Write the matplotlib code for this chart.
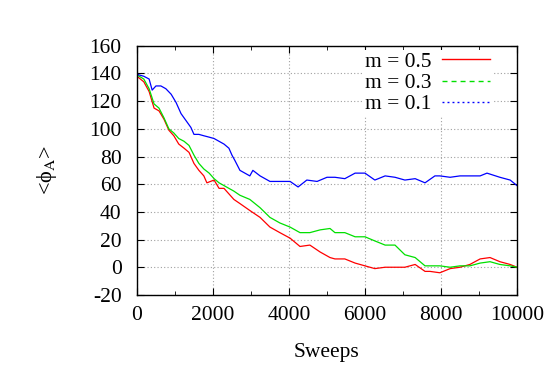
import matplotlib
matplotlib.use("Agg")
import matplotlib.pyplot as plt
from matplotlib.lines import Line2D
from matplotlib.ticker import MultipleLocator

plt.rcParams["font.family"] = ["Liberation Serif", "DejaVu Serif"]
plt.rcParams["mathtext.fontset"] = "stix"
plt.rcParams["axes.unicode_minus"] = False

# values
sweeps_05 = [0, 180, 320, 450, 580, 710, 840, 970, 1100, 1240, 1370, 1500, 1630,
             1760, 1840, 2030, 2160, 2290, 2420, 2550, 2710, 2970, 3240, 3500,
             3760, 4030, 4290, 4550, 4820, 5080, 5210, 5470, 5740, 6000, 6260,
             6530, 6790, 7050, 7320, 7580, 7710, 7970, 8240, 8500, 8760, 9030,
             9290, 9550, 9820, 10000]
phi_05 = [138, 134, 127, 115, 113, 107, 99, 95, 89, 86, 83, 75, 70,
          66, 61, 63, 57, 57, 53, 49, 46, 41, 36, 29,
          25, 21, 15, 16, 11, 7, 6, 6, 3, 1, -1,
          0, 0, 0, 2, -3, -3, -4, -1, 0, 2, 6,
          7, 4, 2, 0]

sweeps_03 = [0, 180, 320, 450, 580, 710, 840, 970, 1100, 1240, 1370, 1500, 1630,
             1760, 1900, 2030, 2160, 2290, 2420, 2550, 2710, 2970, 3240, 3500,
             3760, 4030, 4290, 4550, 4820, 5080, 5210, 5470, 5740, 6000, 6260,
             6530, 6790, 7050, 7320, 7580, 7710, 7970, 8240, 8500, 8760, 9030,
             9290, 9550, 9820, 10000]
phi_03 = [139, 136, 129, 118, 115, 108, 100, 97, 93, 91, 88, 81, 75,
          71, 68, 64, 61, 59, 57, 55, 52, 49, 43, 36,
          32, 29, 25, 25, 27, 28, 25, 25, 22, 22, 19,
          16, 16, 9, 7, 1, 1, 1, 0, 1, 1, 3,
          4, 2, 1, 0]

sweeps_01 = [0, 50, 180, 320, 400, 500, 630, 760, 900, 1030, 1160, 1290, 1420,
             1500, 1630, 1760, 1900, 2030, 2160, 2290, 2420, 2500, 2580, 2710,
             2840, 2970, 3050, 3240, 3500, 3760, 4030, 4240, 4470, 4740, 5000,
             5210, 5470, 5740, 6000, 6260, 6530, 6790, 7050, 7320, 7580, 7840,
             7970, 8240, 8500, 8760, 9030, 9210, 9550, 9820, 10000]
phi_01 = [140, 139, 138, 136, 128, 131, 131, 129, 125, 119, 111, 106, 101,
          96, 96, 95, 94, 93, 91, 89, 86, 81, 77, 70,
          68, 66, 70, 66, 62, 62, 62, 58, 63, 62, 65,
          65, 64, 68, 68, 63, 66, 65, 63, 64, 61, 66,
          66, 65, 66, 66, 66, 68, 65, 63, 59]

labels = ["m = 0.5", "m = 0.3", "m = 0.1"]
colors = ["#ff0000", "#00e000", "#0000ff"]
styles = ["-", (0, (3.6, 2.9)), (0, (1.4, 2.2))]

fig = plt.figure(figsize=(5.5, 3.85), dpi=100)
ax = fig.add_axes([0.249, 0.234, 0.691, 0.647])

series = [(sweeps_05, phi_05), (sweeps_03, phi_03), (sweeps_01, phi_01)]
for (xs, ys), c in zip(series, colors):
    ax.plot(xs, ys, color=c, lw=0.9)

ax.set_xlim(0, 10000)
ax.set_ylim(-20, 160)
ax.xaxis.set_major_locator(MultipleLocator(2000))
ax.xaxis.set_minor_locator(MultipleLocator(1000))
ax.yaxis.set_major_locator(MultipleLocator(20))
ax.tick_params(which="both", direction="in", top=True, right=True, labelsize=15.5)
ax.tick_params(axis="y", pad=11)
ax.tick_params(axis="x", pad=8)
ax.tick_params(which="major", length=5)
ax.tick_params(which="minor", length=3)
ax.grid(True, which="major", color="#a0a0a0", linestyle=(0, (1, 2)), lw=0.8)
for s in ax.spines.values():
    s.set_linewidth(1.0)

ax.set_xlabel("Sweeps", fontsize=15.5, va="center")
ax.xaxis.set_label_coords(0.5, -0.233)
ax.set_ylabel(r"<ϕ$_{\mathrm{A}}$>", fontsize=16, va="center")
ax.yaxis.set_label_coords(-0.237, 0.502)

handles = [Line2D([], [], color=c, ls=s, lw=1.0) for c, s in zip(colors, styles)]
leg = ax.legend(handles, labels, loc="upper right", bbox_to_anchor=(0.934, 0.984),
                markerfirst=False, fontsize=15.5, frameon=True, fancybox=False,
                framealpha=1.0, edgecolor="none", handlelength=2.2,
                handletextpad=0.5, labelspacing=0.05, borderpad=0.1,
                borderaxespad=0.0)

fig.savefig("out.png", dpi=100)
